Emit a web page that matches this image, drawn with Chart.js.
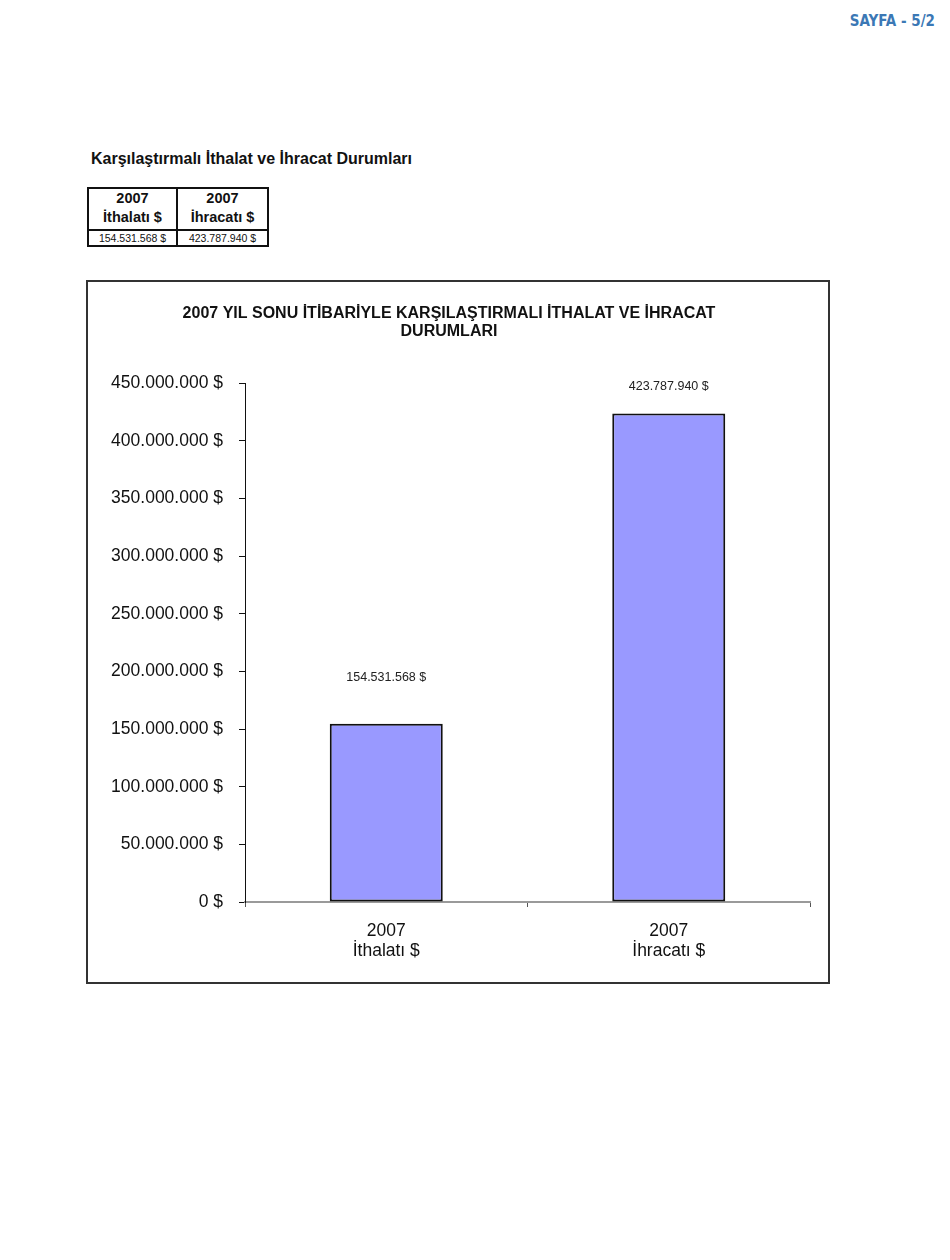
<!DOCTYPE html>
<html>
<head>
<meta charset="utf-8">
<script src="https://cdn.jsdelivr.net/npm/chart.js"></script>
<style>
  body { margin: 0; background: #fff; font-family: Arial, "Liberation Sans", sans-serif; }
  #page { position: relative; width: 950px; height: 1260px; }
  #sayfa { position: absolute; right: 15px; top: 12px; color: #3b78b5; font: bold 15px "Liberation Sans Narrow", "DejaVu Sans Condensed", sans-serif; }
  #heading { position: absolute; left: 91px; top: 150px; font-weight: bold; font-size: 16px; color: #111; }
  #tbl { position: absolute; left: 87px; top: 187px; border-collapse: collapse; }
  #tbl td { border: 2px solid #111; text-align: center; padding: 0; color: #111; }
  #tbl tr.head td { height: 37px; font-weight: bold; font-size: 14.5px; line-height: 19px; padding-bottom: 2px; }
  #tbl tr.vals td { height: 14px; font-size: 10.5px; }
  #frame { position: absolute; left: 86px; top: 280px; width: 740px; height: 700px; border: 2px solid #333; }
</style>
</head>
<body>
<div id="page">
  <div id="sayfa">SAYFA - 5/2</div>
  <div id="heading">Karşılaştırmalı İthalat ve İhracat Durumları</div>
  <table id="tbl">
    <tr class="head"><td style="width:87px">2007<br>İthalatı $</td><td style="width:89px">2007<br>İhracatı $</td></tr>
    <tr class="vals"><td id="v0"></td><td id="v1"></td></tr>
  </table>
  <div id="frame"><canvas id="chart" width="740" height="700"></canvas></div>
</div>
<script>
var categories = [["2007", "İthalatı $"], ["2007", "İhracatı $"]];
var values = [154531568, 423787940];
var yMax = 450000000;
var yStep = 50000000;

function money(v) {
  return String(v).replace(/\B(?=(\d{3})+(?!\d))/g, ".") + " $";
}

document.getElementById("v0").textContent = money(values[0]);
document.getElementById("v1").textContent = money(values[1]);

Chart.defaults.font.family = "Arial, 'Liberation Sans', sans-serif";
Chart.defaults.color = "#000";

// value labels above the bars (offsets in px, as in the original)
var labelOffsets = [46, 27];
var barLabels = {
  id: "barLabels",
  afterDatasetsDraw: function(chart) {
    var ctx = chart.ctx;
    var meta = chart.getDatasetMeta(0);
    ctx.save();
    ctx.font = "12.5px Arial, 'Liberation Sans', sans-serif";
    ctx.fillStyle = "#222";
    ctx.textAlign = "center";
    ctx.textBaseline = "middle";
    meta.data.forEach(function(bar, i) {
      ctx.fillText(money(values[i]), bar.x, bar.y - labelOffsets[i]);
    });
    ctx.restore();
  }
};

new Chart(document.getElementById("chart"), {
  type: "bar",
  data: {
    labels: categories,
    datasets: [{
      data: values,
      backgroundColor: "#9999ff",
      borderColor: "#111",
      borderWidth: 2,
      borderSkipped: false,
      barPercentage: 0.8,
      categoryPercentage: 0.5
    }]
  },
  options: {
    responsive: false,
    animation: false,
    layout: { padding: { top: 0, right: 18, bottom: 0, left: 0 } },
    plugins: {
      legend: { display: false },
      tooltip: { enabled: false },
      title: {
        display: true,
        text: ["2007 YIL SONU İTİBARİYLE KARŞILAŞTIRMALI İTHALAT VE İHRACAT", "DURUMLARI"],
        font: { size: 16, weight: "bold", lineHeight: 1.1 },
        color: "#111",
        padding: { top: 23, bottom: 43 }
      }
    },
    scales: {
      x: {
        grid: { drawOnChartArea: false, drawTicks: true, tickLength: 5, color: "#555" },
        border: { color: "#9a9a9a", width: 2 },
        ticks: { font: { size: 17.5, lineHeight: 1.1 }, padding: 15, color: "#111" },
        afterFit: function(scale) { scale.height = 80; }
      },
      y: {
        min: 0,
        max: yMax,
        grid: { drawOnChartArea: false, drawTicks: true, tickLength: 6, color: "#111" },
        border: { color: "#111", width: 1 },
        ticks: {
          stepSize: yStep,
          font: { size: 17.5 },
          padding: 16,
          color: "#111",
          callback: function(v) { return money(v); }
        },
        afterFit: function(scale) { scale.width = 157; }
      }
    }
  },
  plugins: [barLabels]
});
</script>
</body>
</html>
